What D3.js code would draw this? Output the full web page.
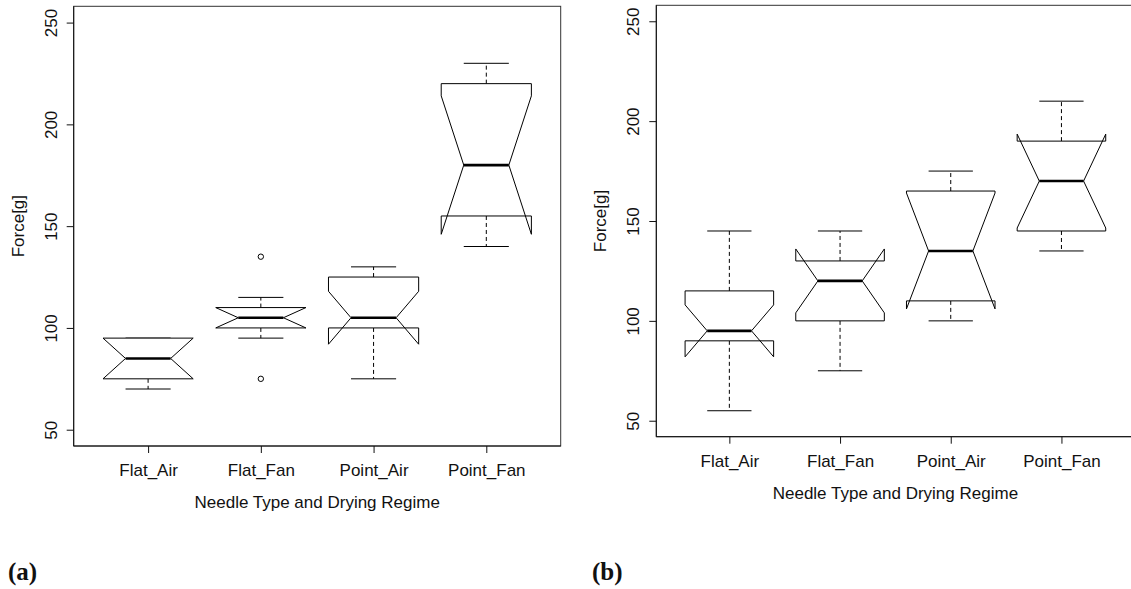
<!DOCTYPE html>
<html>
<head>
<meta charset="utf-8">
<script src="https://cdn.jsdelivr.net/npm/d3@7"></script>
<style>
  html, body { margin: 0; padding: 0; background: #fff; }
  svg { display: block; }
  text { font-family: "Liberation Sans", Arial, Helvetica, sans-serif; fill: #111; }
  .panel-tag { font-family: "Liberation Serif", "Times New Roman", serif; font-weight: bold; }
</style>
</head>
<body>
<svg id="chart" width="1131" height="589"></svg>
<script>
// Groups on the x axis
const categories = ["Flat_Air", "Flat_Fan", "Point_Air", "Point_Fan"];
const yTicks = [50, 100, 150, 200, 250];
const yLimits = [50, 250];

// Panel (a): five-number summaries, notch limits and outliers
const aLowWhisker  = [70, 95, 75, 140];
const aQ1          = [75, 100, 100, 155];
const aMedian      = [85, 105, 105, 180];
const aQ3          = [95, 110, 125, 220];
const aHighWhisker = [95, 115, 130, 230];
const aNotchLow    = [75, 100, 92, 146];
const aNotchHigh   = [95, 110, 118, 214];
const aOutliers    = [[], [135, 75], [], []];

// Panel (b)
const bLowWhisker  = [55, 75, 100, 135];
const bQ1          = [90, 100, 110, 145];
const bMedian      = [95, 120, 135, 170];
const bQ3          = [115, 130, 165, 190];
const bHighWhisker = [145, 145, 175, 210];
const bNotchLow    = [82, 104, 106, 146.5];
const bNotchHigh   = [108, 136, 164, 193.5];
const bOutliers    = [[], [], [], []];

const svg = d3.select("#chart");

function buildStats(lo, q1, med, q3, hi, nlo, nhi, out) {
  return categories.map((c, i) => ({
    name: c, pos: i + 1,
    lo: lo[i], q1: q1[i], med: med[i], q3: q3[i], hi: hi[i],
    nlo: nlo[i], nhi: nhi[i], out: out[i]
  }));
}

function drawPanel(opts) {
  const { stats, left, right, top, bottom, tag, tagX } = opts;
  const g = svg.append("g");

  // R-style 4% axis expansion around x = 0.5..4.5 and the y limits
  const xPad = 0.04 * 4, yPad = 0.04 * (yLimits[1] - yLimits[0]);
  const x = d3.scaleLinear().domain([0.5 - xPad, 4.5 + xPad]).range([left, right]);
  const y = d3.scaleLinear().domain([yLimits[0] - yPad, yLimits[1] + yPad]).range([bottom, top]);

  const halfBox = 0.4;        // half of box width (boxwex 0.8)
  const halfStaple = 0.2;     // half of whisker cap width
  const notchFrac = 0.5;

  // Plot frame
  g.append("rect")
    .attr("x", left).attr("y", top)
    .attr("width", right - left).attr("height", bottom - top)
    .attr("fill", "none").attr("stroke", "#333").attr("stroke-width", 1);
  // darker axis edges
  g.append("path")
    .attr("d", `M${left},${top}V${bottom}H${right}`)
    .attr("fill", "none").attr("stroke", "#111").attr("stroke-width", 1);

  // Y axis
  const yAxis = d3.axisLeft(y).tickValues(yTicks).tickSize(7).tickSizeOuter(0).tickFormat(d3.format("d"));
  const ya = g.append("g").attr("transform", `translate(${left},0)`).call(yAxis);
  ya.select(".domain").remove();
  ya.selectAll(".tick line").attr("stroke", "#111");
  ya.selectAll(".tick text")
    .attr("x", 0).attr("dy", 0)
    .attr("text-anchor", "middle")
    .attr("font-size", 17)
    .attr("transform", "translate(-17,0) rotate(-90)");

  // X axis
  const xAxis = d3.axisBottom(x).tickValues(stats.map(d => d.pos)).tickSize(7).tickSizeOuter(0)
    .tickFormat((d, i) => categories[i]);
  const xa = g.append("g").attr("transform", `translate(0,${bottom})`).call(xAxis);
  xa.select(".domain").remove();
  xa.selectAll(".tick line").attr("stroke", "#111");
  xa.selectAll(".tick text").attr("font-size", 17).attr("dy", 0).attr("y", 30);

  // Axis titles
  g.append("text")
    .attr("x", (left + right) / 2).attr("y", bottom + 62)
    .attr("text-anchor", "middle").attr("font-size", 17)
    .text("Needle Type and Drying Regime");
  g.append("text")
    .attr("transform", `translate(${left - 50},${(top + bottom) / 2}) rotate(-90)`)
    .attr("text-anchor", "middle").attr("font-size", 17)
    .text("Force[g]");

  // Boxes
  const boxes = g.append("g").attr("stroke", "#000").attr("fill", "none");
  stats.forEach(d => {
    const cx = d.pos;
    // whiskers (dashed) and caps
    boxes.append("line")
      .attr("x1", x(cx)).attr("x2", x(cx)).attr("y1", y(d.q3)).attr("y2", y(d.hi))
      .attr("stroke-dasharray", "4,3");
    boxes.append("line")
      .attr("x1", x(cx)).attr("x2", x(cx)).attr("y1", y(d.q1)).attr("y2", y(d.lo))
      .attr("stroke-dasharray", "4,3");
    [d.hi, d.lo].forEach(v => {
      boxes.append("line")
        .attr("x1", x(cx - halfStaple)).attr("x2", x(cx + halfStaple))
        .attr("y1", y(v)).attr("y2", y(v));
    });
    // notched box outline
    const pts = [
      [cx - halfBox, d.q1], [cx + halfBox, d.q1], [cx + halfBox, d.nlo],
      [cx + halfBox * notchFrac, d.med], [cx + halfBox, d.nhi], [cx + halfBox, d.q3],
      [cx - halfBox, d.q3], [cx - halfBox, d.nhi], [cx - halfBox * notchFrac, d.med],
      [cx - halfBox, d.nlo]
    ];
    boxes.append("polygon")
      .attr("points", pts.map(p => [x(p[0]), y(p[1])].join(",")).join(" "))
      .attr("fill", "#fff").attr("stroke-width", 1);
    // median
    boxes.append("line")
      .attr("x1", x(cx - halfBox * notchFrac)).attr("x2", x(cx + halfBox * notchFrac))
      .attr("y1", y(d.med)).attr("y2", y(d.med))
      .attr("stroke-width", 2.6);
    // outliers
    d.out.forEach(v => {
      boxes.append("circle")
        .attr("cx", x(cx)).attr("cy", y(v)).attr("r", 2.7)
        .attr("fill", "none").attr("stroke-width", 1);
    });
  });

  // Panel tag
  svg.append("text").attr("class", "panel-tag")
    .attr("x", tagX).attr("y", 580).attr("font-size", 25)
    .text(tag);
}

drawPanel({
  stats: buildStats(aLowWhisker, aQ1, aMedian, aQ3, aHighWhisker, aNotchLow, aNotchHigh, aOutliers),
  left: 73.7, right: 560.7, top: 6.3, bottom: 446, tag: "(a)", tagX: 8
});
drawPanel({
  stats: buildStats(bLowWhisker, bQ1, bMedian, bQ3, bHighWhisker, bNotchLow, bNotchHigh, bOutliers),
  left: 656.3, right: 1134.5, top: 5.3, bottom: 436.7, tag: "(b)", tagX: 592
});
</script>
</body>
</html>
